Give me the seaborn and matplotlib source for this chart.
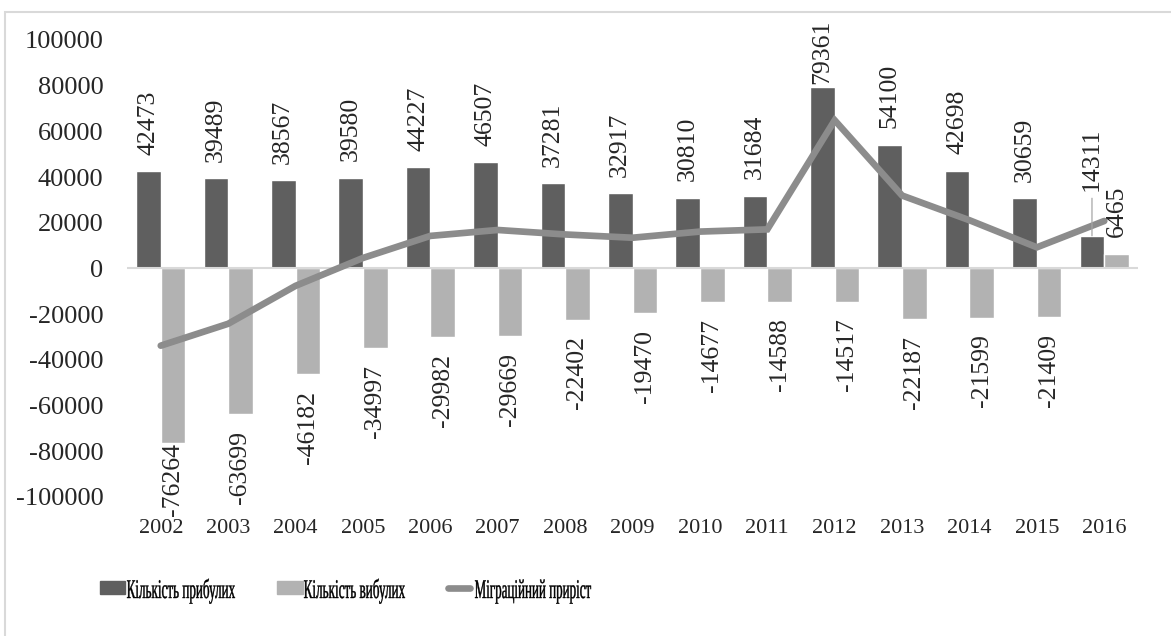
import numpy as np
import pandas as pd
import seaborn as sns
import matplotlib.pyplot as plt
import matplotlib.transforms as mtransforms
from matplotlib.patches import Rectangle, PathPatch
from matplotlib.lines import Line2D
from matplotlib.textpath import TextPath
from matplotlib.font_manager import FontProperties

# дані з діаграми
years = ['2002', '2003', '2004', '2005', '2006', '2007', '2008', '2009',
         '2010', '2011', '2012', '2013', '2014', '2015', '2016']
arrived = [42473, 39489, 38567, 39580, 44227, 46507, 37281, 32917,
           30810, 31684, 79361, 54100, 42698, 30659, 14311]
departed = [-76264, -63699, -46182, -34997, -29982, -29669, -22402, -19470,
            -14677, -14588, -14517, -22187, -21599, -21409, 6465]
growth = [-33791, -24210, -7615, 4583, 14245, 16838, 14879, 13447,
          16133, 17096, 64844, 31913, 21099, 9250, 20776]

lbl_arr = 'Кількість прибулих'
lbl_dep = 'Кількість вибулих'
lbl_gr = 'Міграційний приріст'

c_arr = '#5f5f5f'
c_dep = '#b2b2b2'
c_gr = '#8c8c8c'

df = pd.DataFrame({
    'year': years * 2,
    'value': arrived + departed,
    'series': [lbl_arr] * len(years) + [lbl_dep] * len(years),
})

sns.set_theme(style='white')
plt.rcParams['font.family'] = ['Liberation Serif', 'DejaVu Serif']
plt.rcParams['axes.unicode_minus'] = False

W, H = 1171, 636
fig = plt.figure(figsize=(W / 100, H / 100), dpi=100)
ax = fig.add_axes([0.1085, 0.2186, 0.8633, 0.7186])

sns.barplot(data=df, x='year', y='value', hue='series', order=years,
            hue_order=[lbl_arr, lbl_dep], palette=[c_arr, c_dep],
            width=0.73, gap=0, saturation=1, ax=ax, legend=False)

ax.axhline(0, color='#d9d9d9', lw=1.5, zorder=1.5)

sns.lineplot(x=np.arange(len(years)), y=growth, color=c_gr, lw=4.8,
             solid_capstyle='round', solid_joinstyle='miter', ax=ax,
             zorder=3)

ax.set_ylim(-100000, 100000)
ax.set_xlim(-0.5, len(years) - 0.5)
ax.set_yticks(np.arange(-100000, 100001, 20000))
ax.set_xlabel('')
ax.set_ylabel('')
for s in ax.spines.values():
    s.set_visible(False)
ax.tick_params(axis='y', length=0, pad=17, labelsize=19)
ax.tick_params(axis='x', length=0, pad=16, labelsize=16)

# підписи значень (відступ у пунктах)
pad_arr = [12] * len(years)
pad_arr[10] = 2
pad_arr[14] = 32
pad_dep = [12] * len(years)
pad_dep[0] = 0


def label_bars(container, values, pads):
    for bar, v, pd_ in zip(container, values, pads):
        x = bar.get_x() + bar.get_width() / 2
        sign = 1 if v >= 0 else -1
        ax.annotate(str(v), xy=(x, v), xytext=(0, sign * pd_),
                    textcoords='offset points', rotation=90,
                    ha='center', va='bottom' if v >= 0 else 'top',
                    fontsize=18.5, annotation_clip=False, zorder=5)


label_bars(ax.containers[0], arrived, pad_arr)
label_bars(ax.containers[1], departed, pad_dep)

# лінія-виноска для 2016
p = ax.containers[0][14]
ax.annotate('', xy=(p.get_x() + p.get_width() / 2, arrived[14]),
            xytext=(0, 27), textcoords='offset points',
            arrowprops=dict(arrowstyle='-', color='#a6a6a6', lw=0.9,
                            shrinkA=0, shrinkB=0))

# рамка діаграми
fig.patches.append(Rectangle((5 / W, -0.1), 1.2, 1.1 - 12 / H,
                             transform=fig.transFigure, fill=False,
                             edgecolor='#d9d9d9', lw=1.5))

# легенда: маркери і стиснутий по ширині текст (у пікселях)
px = mtransforms.IdentityTransform()
fig.patches.append(Rectangle((100, H - 594), 25, 13, transform=px,
                             color=c_arr))
fig.patches.append(Rectangle((277, H - 594), 26, 13, transform=px,
                             color=c_dep))
fig.lines.append(Line2D([448, 470], [H - 588, H - 588], transform=px,
                        color=c_gr, lw=4.8, solid_capstyle='round'))

fp = FontProperties(family='Liberation Serif')
for txt, x0, w in [(lbl_arr, 127, 108), (lbl_dep, 304, 101),
                   (lbl_gr, 475, 116)]:
    tp = TextPath((0, 0), txt, size=27, prop=fp)
    ext = tp.get_extents()
    sx = w / ext.width
    tr = mtransforms.Affine2D().translate(-ext.x0, 0).scale(sx, 1) \
        .translate(x0, H - 598)
    fig.patches.append(PathPatch(tp, transform=tr, facecolor='black',
                                 edgecolor='black', lw=0.3))

fig.savefig('out.png', dpi=100)
